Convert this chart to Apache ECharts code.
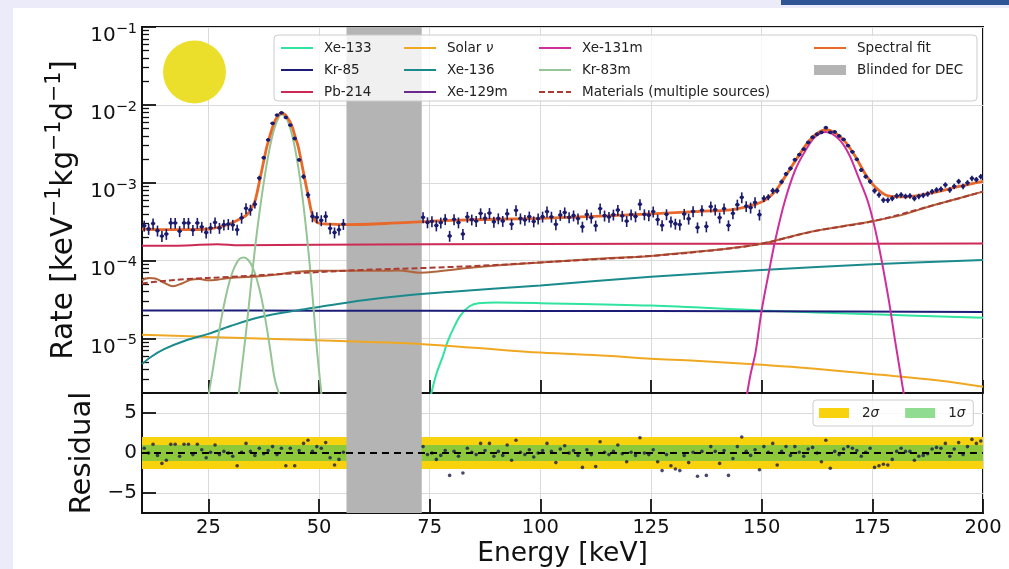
<!DOCTYPE html>
<html><head><meta charset="utf-8">
<script src="https://cdn.jsdelivr.net/npm/echarts@6/dist/echarts.min.js"></script>
<style>html,body{margin:0;padding:0;background:#ebebfa;}#c{width:1009px;height:569px;}</style>
</head><body><div id="c"></div>
<script>
// ---------------- DATA ----------------
const X_RANGE = [10, 200];
const Y_RANGE = [2e-6, 0.1];
const RES_RANGE = [-7.5, 7.5];
const X_TICKS = [25, 50, 75, 100, 125, 150, 175, 200];
const RES_TICKS = [-5, 0, 5];
const MINOR_TICKS = [3e-6,4e-6,5e-6,6e-6,7e-6,8e-6,9e-6,2e-5,3e-5,4e-5,5e-5,6e-5,7e-5,8e-5,9e-5,
  2e-4,3e-4,4e-4,5e-4,6e-4,7e-4,8e-4,9e-4,2e-3,3e-3,4e-3,5e-3,6e-3,7e-3,8e-3,9e-3,
  2e-2,3e-2,4e-2,5e-2,6e-2,7e-2,8e-2,9e-2];
const BLINDED = [56.2, 73.2];
const SIGMA_BANDS = [2, 1];
const BIN_HALF = 0.5;

const leftE = [10.5,11.5,12.5,13.5,14.5,15.5,16.5,17.5,18.5,19.5,20.5,21.5,22.5,23.5,24.5,25.5,26.5,27.5,28.5,29.5,
  30.5,31.5,32.5,33.5,34.5,35.5,36.5,37.5,38.5,39.5,40.5,41.5,42.5,43.5,44.5,45.5,46.5,47.5,48.5,49.5,
  50.5,51.5,52.5,53.5,54.5,55.5];
const leftRate = [2.81e-4,2.55e-4,3.0e-4,2.43e-4,2.07e-4,2.2e-4,3.05e-4,3.05e-4,2.39e-4,3.05e-4,
  3.05e-4,2.47e-4,3.05e-4,2.72e-4,2.3e-4,2.64e-4,3.1e-4,2.63e-4,2.9e-4,2.95e-4,
  2.88e-4,2.5e-4,3.55e-4,4.7e-4,4.5e-4,5.3e-4,1.15e-3,2.1e-3,3.56e-3,5.8e-3,
  7.4e-3,7.9e-3,6.9e-3,5.5e-3,3.7e-3,1.97e-3,1.2e-3,7.0e-4,3.7e-4,3.6e-4,
  3.3e-4,3.7e-4,2.6e-4,2.3e-4,2.5e-4,2.95e-4];
const leftErrFrac = [0.16,0.16,0.16,0.16,0.16,0.16,0.16,0.16,0.16,0.16,0.16,0.16,0.16,0.16,0.16,0.16,0.16,0.16,0.16,0.16,
  0.16,0.16,0.16,0.16,0.16,0.12,0.07,0.05,0.04,0.03,0.03,0.03,0.03,0.03,0.04,0.05,0.07,0.09,0.16,0.16,
  0.16,0.16,0.16,0.16,0.16,0.16];
const leftRes = [0.6,0.0,1.1,-0.3,-1.3,-0.9,1.1,1.1,-0.4,1.1,
  1.1,-0.2,1.1,0.4,-0.6,0.1,1.0,-0.2,0.2,0.0,
  -0.4,-1.6,0.1,1.2,0.2,-0.3,0.6,-0.1,0.3,0.8,
  -0.2,0.6,-1.6,0.6,-1.6,0.3,1.2,1.6,0.2,0.8,
  0.6,1.3,-0.6,-1.5,-0.8,0.1];

const rightE = [73.5,74.5,75.5,76.5,77.5,78.5,79.5,80.5,81.5,82.5,83.5,84.5,85.5,86.5,87.5,88.5,89.5,90.5,91.5,92.5,
  93.5,94.5,95.5,96.5,97.5,98.5,99.5,100.5,101.5,102.5,103.5,104.5,105.5,106.5,107.5,108.5,109.5,110.5,111.5,112.5,
  113.5,114.5,115.5,116.5,117.5,118.5,119.5,120.5,121.5,122.5,123.5,124.5,125.5,126.5,127.5,128.5,129.5,130.5,131.5,132.5,
  133.5,134.5,135.5,136.5,137.5,138.5,139.5,140.5,141.5,142.5,143.5,144.5,145.5,146.5,147.5,148.5,149.5,150.5,151.5,152.5,
  153.5,154.5,155.5,156.5,157.5,158.5,159.5,160.5,161.5,162.5,163.5,164.5,165.5,166.5,167.5,168.5,169.5,170.5,171.5,172.5,
  173.5,174.5,175.5,176.5,177.5,178.5,179.5,180.5,181.5,182.5,183.5,184.5,185.5,186.5,187.5,188.5,189.5,190.5,191.5,192.5,
  193.5,194.5,195.5,196.5,197.5,198.5,199.5];
const rightRate = [3.6e-4,3.1e-4,3.2e-4,2.83e-4,3.08e-4,3.41e-4,2.08e-4,3.39e-4,3.09e-4,2.2e-4,
  3.65e-4,3.37e-4,3.22e-4,4.05e-4,3.51e-4,4.08e-4,3.16e-4,3.49e-4,3.23e-4,4.0e-4,
  2.95e-4,4.43e-4,3.48e-4,3.33e-4,3.68e-4,3.19e-4,3.47e-4,3.67e-4,4.27e-4,3.66e-4,
  2.93e-4,3.86e-4,4.16e-4,3.6e-4,3.8e-4,3.47e-4,2.73e-4,3.92e-4,3.57e-4,2.82e-4,
  4.66e-4,3.79e-4,3.64e-4,3.9e-4,4.47e-4,3.76e-4,3.22e-4,3.92e-4,3.7e-4,5.3e-4,
  3.93e-4,3.83e-4,4.27e-4,3.37e-4,2.84e-4,3.94e-4,3.17e-4,2.98e-4,2.91e-4,3.98e-4,
  3.46e-4,4.3e-4,2.67e-4,4.44e-4,2.75e-4,4.95e-4,4.52e-4,3.58e-4,4.66e-4,2.84e-4,
  4.05e-4,5.23e-4,6.5e-4,5.0e-4,4.8e-4,5.6e-4,3.9e-4,6.3e-4,6.55e-4,7.9e-4,
  7.9e-4,1.03e-3,1.3e-3,1.53e-3,1.98e-3,2.3e-3,2.7e-3,3.3e-3,3.85e-3,4.2e-3,
  4.45e-3,5.1e-3,4.45e-3,4.5e-3,4.0e-3,3.6e-3,3.0e-3,2.5e-3,2.0e-3,1.46e-3,
  1.2e-3,1.04e-3,7.9e-4,7.0e-4,6.0e-4,6.0e-4,6.3e-4,6.8e-4,7.0e-4,6.7e-4,
  6.8e-4,6.3e-4,6.7e-4,6.9e-4,7.2e-4,7.7e-4,8.1e-4,8.3e-4,9.4e-4,8.1e-4,
  9.0e-4,1.04e-3,9.0e-4,1.0e-3,1.14e-3,1.1e-3,1.2e-3];
const rightErrFrac = [0.16,0.16,0.16,0.16,0.16,0.16,0.16,0.16,0.16,0.16,0.16,0.16,0.16,0.16,0.16,0.16,0.16,0.16,0.16,0.16,
  0.16,0.16,0.16,0.16,0.16,0.16,0.16,0.16,0.16,0.16,0.16,0.16,0.16,0.16,0.16,0.16,0.16,0.16,0.16,0.16,
  0.16,0.16,0.16,0.16,0.16,0.16,0.16,0.16,0.16,0.16,0.16,0.16,0.16,0.16,0.16,0.16,0.16,0.16,0.16,0.16,
  0.16,0.16,0.16,0.16,0.16,0.16,0.16,0.16,0.16,0.16,0.16,0.16,0.16,0.16,0.16,0.16,0.16,0.1,0.09,0.09,
  0.08,0.07,0.06,0.06,0.05,0.05,0.045,0.04,0.04,0.04,0.04,0.04,0.04,0.04,0.04,0.04,0.04,0.045,0.05,0.055,
  0.06,0.07,0.08,0.08,0.08,0.08,0.08,0.08,0.08,0.08,0.08,0.08,0.08,0.08,0.08,0.08,0.08,0.08,0.08,0.08,
  0.08,0.08,0.08,0.08,0.08,0.08,0.08];
const rightRes = [0.8,-0.2,0.0,-0.8,-0.3,0.3,-2.8,0.2,-0.4,-2.5,
  0.6,0.1,-0.2,1.2,0.3,1.2,-0.4,0.2,-0.3,1.0,
  -0.9,1.6,0.1,-0.2,0.4,-0.5,0.0,0.3,1.2,0.2,
  -1.2,0.5,0.9,0.0,0.3,-0.3,-1.8,0.4,-0.2,-1.7,
  1.4,0.1,-0.2,0.2,1.0,-0.1,-1.1,0.1,-0.3,1.9,
  0.0,-0.2,0.4,-1.1,-2.2,-0.2,-1.6,-2.0,-2.2,-0.3,
  -1.2,0.1,-2.9,0.2,-2.8,0.8,0.2,-1.3,0.3,-2.8,
  -0.7,0.8,2.0,0.2,-0.3,0.4,-2.1,0.8,0.1,1.2,
  -1.5,0.2,0.8,-0.3,0.8,0.1,-0.4,0.5,0.7,0.0,
  -1.1,1.6,-1.9,0.2,-0.2,0.5,0.8,0.6,0.3,-0.4,
  0.1,0.6,-1.8,-1.6,-1.4,-1.5,-0.8,0.2,0.6,0.2,
  0.2,-0.9,-0.4,-0.3,-0.1,0.5,0.7,0.6,1.2,-0.4,
  0.5,1.3,-0.2,0.8,1.7,1.2,1.5];

// model curves [energy keV, rate]
const spectralFit = [[10,2.55e-4],[15,2.5e-4],[20,2.5e-4],[25,2.55e-4],[28,2.75e-4],[30,3.0e-4],[32,3.4e-4],[33.7,3.9e-4],[35,5.0e-4],[35.6,6.0e-4],
  [36.7,1.15e-3],[37.5,1.9e-3],[38.2,2.9e-3],[39,4.2e-3],[39.7,5.6e-3],[40.5,7.0e-3],[41.6,7.9e-3],[42.6,7.2e-3],[43.8,5.5e-3],[44.6,3.9e-3],
  [45.3,2.9e-3],[46.5,1.34e-3],[47.6,6.6e-4],[48.7,3.6e-4],[50.2,3.0e-4],[52,2.95e-4],[56,2.9e-4],[65,3.0e-4],[75,3.2e-4],[80,3.3e-4],
  [90,3.4e-4],[100,3.5e-4],[115,3.75e-4],[125,4.0e-4],[136,4.3e-4],[143,4.5e-4],[147,5.0e-4],[149,5.4e-4],[150.8,6.0e-4],[153,7.7e-4],
  [155.3,1.2e-3],[158.3,2.2e-3],[160.6,3.4e-3],[162.5,4.3e-3],[164.5,4.8e-3],[166.5,4.4e-3],[168.8,3.4e-3],[171.1,2.2e-3],[173.4,1.3e-3],[175.6,8.9e-4],
  [178.6,6.8e-4],[182.4,6.6e-4],[188.3,7.4e-4],[194.4,8.9e-4],[200,1.04e-3]];
const xe133 = [[75.2,1.8e-6],[76.5,3.5e-6],[78,6e-6],[79,9e-6],[80.5,1.4e-5],[82,2.0e-5],[84,2.6e-5],[86,2.85e-5],[90,2.9e-5],[100,2.85e-5],[125,2.65e-5],[150,2.3e-5],[175,2.05e-5],[200,1.85e-5]];
const kr85 = [[10,2.3e-5],[50,2.28e-5],[100,2.26e-5],[150,2.24e-5],[200,2.2e-5]];
const pb214 = [[10,1.55e-4],[20,1.57e-4],[27,1.63e-4],[32,1.58e-4],[50,1.6e-4],[100,1.64e-4],[150,1.65e-4],[200,1.66e-4]];
const solarNu = [[10,1.12e-5],[25,1.05e-5],[40,9.9e-6],[55,9.3e-6],[70,8.7e-6],[85,7.6e-6],[100,6.6e-6],[115,6.0e-6],[125,5.5e-6],[135,5.2e-6],[150,4.6e-6],[160,4.2e-6],[175,3.5e-6],[190,2.9e-6],[200,2.4e-6]];
const xe136 = [[10,4.7e-6],[12,5.8e-6],[15,7.3e-6],[20,9.5e-6],[25,1.15e-5],[30,1.45e-5],[37,1.9e-5],[45,2.3e-5],[50,2.55e-5],[60,3.1e-5],[70,3.6e-5],[80,4.0e-5],[100,4.8e-5],[125,6.2e-5],[150,7.6e-5],[175,9.0e-5],[200,1.02e-4]];
const xe129m = [];
const xe131m = [[146.6,1.8e-6],[147.5,3.5e-6],[148.6,6.6e-6],[150,2.3e-5],[151.6,7.0e-5],[153.1,1.87e-4],[155.3,6.0e-4],[157.6,1.47e-3],[159.9,2.6e-3],[162.1,3.9e-3],
  [164.5,4.5e-3],[167.3,3.7e-3],[169.6,2.4e-3],[171.8,1.2e-3],[174.1,5.5e-4],[176.3,1.7e-4],[178.6,3.4e-5],[180.1,9.7e-6],[182.2,1.8e-6]];
const kr83mMain = [[31.8,1.8e-6],[32.5,4e-6],[33.5,1.2e-5],[34.5,4.2e-5],[35.5,1.4e-4],[36.5,4.0e-4],[37.5,1.0e-3],[38.5,2.2e-3],[39.5,4.1e-3],[40.5,6.2e-3],
  [41.5,7.5e-3],[42.5,6.9e-3],[43.5,5.0e-3],[44.5,2.9e-3],[45.5,1.35e-3],[46.5,5.0e-4],[47.5,1.5e-4],[48.5,3.7e-5],[49.5,7.5e-6],[50.6,1.8e-6]];
const kr83mLow = [[25,1.8e-6],[26,4e-6],[27,9e-6],[28,1.9e-5],[29,3.6e-5],[30,6.0e-5],[31,8.5e-5],[32,1.05e-4],[33,1.1e-4],[34,1.02e-4],[35,8.2e-5],[36,5.6e-5],[37,3.3e-5],[38,1.6e-5],[39,7e-6],[40,3e-6],[41.2,1.8e-6]];
const materialsSum = [[10,5.1e-5],[15,5.5e-5],[20,5.8e-5],[30,6.2e-5],[45,6.9e-5],[60,7.6e-5],[75,8.1e-5],[90,8.8e-5],[100,9.5e-5],[125,1.15e-4],[140,1.38e-4],[150,1.65e-4],[162,2.4e-4],[175,3.2e-4],[188,5.0e-4],[200,7.7e-4]];
const materialsSolid = [[10,5.6e-5],[11.5,6.0e-5],[13,5.9e-5],[15,5.2e-5],[17,4.7e-5],[19,5.1e-5],[21,5.7e-5],[23,5.8e-5],[25,5.6e-5],[27,5.7e-5],[30,6.0e-5],[35,6.2e-5],[40,6.6e-5],[45,7.2e-5],[50,7.4e-5],[55,7.4e-5],[62,7.4e-5],[68,7.5e-5],[72.7,7.0e-5],[76,7.2e-5],
  [83,8.0e-5],[90,8.7e-5],[100,9.5e-5],[112,1.05e-4],[125,1.15e-4],[135,1.3e-4],[140,1.38e-4],[150,1.65e-4],[156,2.0e-4],[162,2.4e-4],[168,2.75e-4],[175,3.2e-4],[182,3.9e-4],[188,5.0e-4],[194,6.2e-4],[200,7.7e-4]];

// ---------------- CHART ----------------
const FONT = 'DejaVu Sans';
const INK = '#111';
const NAVY = '#1b1b6e';
function logLabel(v) {
  const l = Math.log10(v), p = Math.round(l);
  if (Math.abs(l - p) > 1e-6) return '';
  return '{b|10}{s|' + (p < 0 ? '\u2212' : '') + Math.abs(p) + '}';
}
const pts = (E, R, F) => E.map((e, i) => [e, R[i], R[i] * F[i]]);
const dataPts = pts(leftE, leftRate, leftErrFrac).concat(pts(rightE, rightRate, rightErrFrac));
const resPts = leftE.map((e, i) => [e, leftRes[i]]).concat(rightE.map((e, i) => [e, rightRes[i]]));

const chart = echarts.init(document.getElementById('c'));
const G0 = {left: 142, top: 27, right: 26, height: 366};
const G1 = {left: 142, top: 393, right: 26, height: 120};
const axisLineStyle = {color: INK, width: 2};
const gridLine = {show: true, lineStyle: {color: '#dadada', width: 1}};

function comp(name, data, color, extra) {
  return Object.assign({
    name, type: 'line', data, xAxisIndex: 0, yAxisIndex: 0, symbol: 'none', smooth: 0.35,
    lineStyle: {color, width: 2}, itemStyle: {color}, z: 3, silent: true
  }, extra || {});
}

const legendCommon = {
  orient: 'vertical', itemWidth: 32, itemHeight: 10, itemGap: 8, padding: 0, top: 41,
  selectedMode: false, itemStyle: {opacity: 0},
  textStyle: {fontFamily: FONT, fontSize: 13.5, color: '#222', padding: [0, 0, 0, 6],
    rich: {nu: {fontFamily: FONT, fontSize: 13.5, color: '#222', fontStyle: 'italic'}}}
};

const option = {
  animation: false,
  backgroundColor: '#ebebfa',
  textStyle: {fontFamily: FONT},
  graphic: [
    {type: 'rect', z: -10, shape: {x: 13, y: 8, width: 996, height: 561}, style: {fill: '#ffffff'}},
    {type: 'rect', z: -10, shape: {x: 781, y: 0, width: 228, height: 5}, style: {fill: '#2f5597'}},
    {type: 'circle', z: 3, shape: {cx: 194.5, cy: 72, r: 31.5}, style: {fill: '#ebdf2b'}},
    {type: 'rect', z: 3, shape: {x: 274, y: 35, width: 703, height: 66, r: 4}, style: {fill: 'rgba(255,255,255,0.8)', stroke: '#cccccc', lineWidth: 1}}
  ],
  grid: [
    Object.assign({show: true, borderColor: INK, borderWidth: 2, backgroundColor: 'transparent'}, G0),
    Object.assign({show: true, borderColor: INK, borderWidth: 2, backgroundColor: 'transparent'}, G1)
  ],
  legend: [
    Object.assign({}, legendCommon, {left: 280, data: ['Xe-133', 'Kr-85', 'Pb-214']}),
    Object.assign({}, legendCommon, {left: 403, data: ['Solar ν', 'Xe-136', 'Xe-129m'],
      formatter: n => n === 'Solar ν' ? 'Solar {nu|ν}' : n}),
    Object.assign({}, legendCommon, {left: 538, data: ['Xe-131m', 'Kr-83m', 'Materials (multiple sources)']}),
    Object.assign({}, legendCommon, {left: 813, data: ['Spectral fit', {name: 'Blinded for DEC', icon: 'rect', itemStyle: {opacity: 1}}]}),
    {orient: 'horizontal', left: 813, top: 400, itemWidth: 30, itemHeight: 10, itemGap: 26, selectedMode: false,
      padding: [6, 8, 6, 6], backgroundColor: 'rgba(255,255,255,0.8)', borderColor: '#cccccc', borderWidth: 1, borderRadius: 3,
      data: [{name: '2σ', icon: 'rect'}, {name: '1σ', icon: 'rect'}],
      formatter: n => n.replace('σ', '{s|σ}'),
      textStyle: {fontFamily: FONT, fontSize: 13.5, color: '#222', padding: [0, 0, 0, 8],
        rich: {s: {fontFamily: FONT, fontSize: 13.5, color: '#222', fontStyle: 'italic'}}}}
  ],
  xAxis: [
    {type: 'value', gridIndex: 0, min: X_RANGE[0], max: X_RANGE[1],
      axisLine: {show: true, onZero: false, lineStyle: axisLineStyle},
      axisTick: {show: true, inside: true, length: 13, lineStyle: {color: INK, width: 1.8}, customValues: X_TICKS},
      axisLabel: {show: false, customValues: X_TICKS}, splitLine: gridLine},
    {type: 'value', gridIndex: 1, min: X_RANGE[0], max: X_RANGE[1],
      name: 'Energy [keV]', nameLocation: 'middle', nameGap: 28,
      nameTextStyle: {fontFamily: FONT, fontSize: 26.5, color: INK},
      axisLine: {show: true, onZero: false, lineStyle: axisLineStyle},
      axisTick: {show: true, inside: true, length: 14, lineStyle: {color: INK, width: 1.8}, customValues: X_TICKS},
      axisLabel: {show: true, customValues: X_TICKS, margin: 5, fontFamily: FONT, fontSize: 19.5, color: INK},
      splitLine: gridLine}
  ],
  yAxis: [
    {type: 'log', gridIndex: 0, logBase: 10, min: Y_RANGE[0], max: Y_RANGE[1],
      name: '{m|Rate [keV}{s|\u22121}{m|kg}{s|\u22121}{m|d}{s|\u22121}{m|]}', nameLocation: 'middle', nameGap: 62,
      nameTextStyle: {fontFamily: FONT, fontSize: 29.5, color: INK,
        rich: {m: {fontFamily: FONT, fontSize: 29.5, color: INK, lineHeight: 30, padding: [10, 0, 0, 0], verticalAlign: 'top'},
               s: {fontFamily: FONT, fontSize: 20.5, color: INK, lineHeight: 20, padding: [5, 0, 0, 0], verticalAlign: 'top'}}},
      axisLine: {show: true, onZero: false, lineStyle: axisLineStyle},
      axisTick: {show: true, inside: true, length: 14, lineStyle: {color: INK, width: 1.8}},
      axisLabel: {show: true, margin: 5, color: INK, formatter: logLabel, showMinLabel: true, showMaxLabel: true,
        rich: {b: {fontFamily: FONT, fontSize: 20, color: INK, lineHeight: 20, padding: [9, 0, 0, 0], verticalAlign: 'top'},
               s: {fontFamily: FONT, fontSize: 14.5, color: INK, lineHeight: 14, padding: [4.5, 0, 0, 0], verticalAlign: 'top'}}},
      splitLine: gridLine},
    {type: 'value', gridIndex: 0, min: Math.log10(Y_RANGE[0]), max: Math.log10(Y_RANGE[1]), position: 'left', offset: 0,
      axisLine: {show: false}, axisLabel: {show: false}, splitLine: {show: false},
      axisTick: {show: true, inside: true, length: 7, lineStyle: {color: INK, width: 1.3}, customValues: MINOR_TICKS.map(v => Math.log10(v))}},
    {type: 'value', gridIndex: 1, min: RES_RANGE[0], max: RES_RANGE[1],
      name: 'Residual', nameLocation: 'middle', nameGap: 41,
      nameTextStyle: {fontFamily: FONT, fontSize: 29, color: INK},
      axisLine: {show: true, onZero: false, lineStyle: axisLineStyle},
      axisTick: {show: true, inside: true, length: 14, lineStyle: {color: INK, width: 1.8}, customValues: RES_TICKS},
      axisLabel: {show: true, margin: 5, fontFamily: FONT, fontSize: 20, color: INK, customValues: RES_TICKS,
        formatter: v => v < 0 ? '\u2212' + Math.abs(v) : String(v)},
      splitLine: gridLine}
  ],
  series: [
    {name: 'Blinded for DEC', type: 'line', data: [], xAxisIndex: 0, yAxisIndex: 0, z: 1, silent: true,
      itemStyle: {color: '#b4b4b4'}, lineStyle: {color: '#b4b4b4'},
      markArea: {silent: true, itemStyle: {color: '#b4b4b4'}, data: [[{xAxis: BLINDED[0]}, {xAxis: BLINDED[1]}]]}},
    {name: 'minorTicksHolder', type: 'line', data: [], xAxisIndex: 0, yAxisIndex: 1},
    comp('Xe-133', xe133, '#30e39e'),
    comp('Kr-85', kr85, '#1c1c78'),
    comp('Pb-214', pb214, '#cc2a55'),
    comp('Solar ν', solarNu, '#f0a823'),
    comp('Xe-136', xe136, '#1b8a8c'),
    comp('Xe-129m', xe129m, '#6a2a8c'),
    comp('Xe-131m', xe131m, '#cf2f9b'),
    comp('Kr-83m', kr83mMain, '#95c495'),
    comp('Kr-83m', kr83mLow, '#95c495'),
    comp('Materials (individual)', materialsSolid, '#b0653c'),
    comp('Materials (multiple sources)', materialsSum, '#aa3b33', {lineStyle: {color: '#aa3b33', width: 2, type: [6, 3]}}),
    comp('Spectral fit', spectralFit, '#e8692a', {lineStyle: {color: '#e8692a', width: 2.8}, z: 4}),
    {name: 'Data', type: 'custom', xAxisIndex: 0, yAxisIndex: 0, z: 5, silent: true,
      data: dataPts, encode: {x: 0, y: 1},
      renderItem: (params, api) => {
        const e = api.value(0), r = api.value(1), er = api.value(2);
        const c = api.coord([e, r]);
        const lo = api.coord([e, r - er]), hi = api.coord([e, r + er]);
        const l = api.coord([e - BIN_HALF, r]), rr = api.coord([e + BIN_HALF, r]);
        return {type: 'group', children: [
          {type: 'line', shape: {x1: lo[0], y1: lo[1], x2: hi[0], y2: hi[1]}, style: {stroke: NAVY, lineWidth: 1.6}},
          {type: 'line', shape: {x1: l[0], y1: l[1], x2: rr[0], y2: rr[1]}, style: {stroke: NAVY, lineWidth: 1.6}},
          {type: 'circle', shape: {cx: c[0], cy: c[1], r: 1.9}, style: {fill: NAVY}}
        ]};
      }},
    // residual panel
    {name: '2σ', type: 'line', data: [], xAxisIndex: 1, yAxisIndex: 2, z: 1, silent: true,
      itemStyle: {color: '#f8d20c'}, lineStyle: {color: '#f8d20c'},
      markArea: {silent: true, itemStyle: {color: '#f8d20c'}, data: [[{yAxis: -SIGMA_BANDS[0]}, {yAxis: SIGMA_BANDS[0]}]]}},
    {name: '1σ', type: 'line', data: [], xAxisIndex: 1, yAxisIndex: 2, z: 1, silent: true,
      itemStyle: {color: '#90dc90'}, lineStyle: {color: '#90dc90'},
      markArea: {silent: true, itemStyle: {color: '#8cc83a'}, data: [[{yAxis: -SIGMA_BANDS[1]}, {yAxis: SIGMA_BANDS[1]}]]}},
    {name: 'Blinded for DEC', type: 'line', data: [], xAxisIndex: 1, yAxisIndex: 2, z: 2, silent: true,
      itemStyle: {color: '#b4b4b4'},
      markArea: {silent: true, itemStyle: {color: '#b4b4b4'}, data: [[{xAxis: BLINDED[0]}, {xAxis: BLINDED[1]}]]}},
    {name: 'Residuals', type: 'scatter', xAxisIndex: 1, yAxisIndex: 2, z: 4, silent: true,
      data: resPts, symbolSize: 3.6, itemStyle: {color: '#1a1a4a'},
      markLine: {silent: true, symbol: ['none', 'none'], label: {show: false},
        lineStyle: {color: '#000', width: 2.2, type: [7, 5]}, data: [{yAxis: 0}]}}
  ]
};
chart.setOption(option);
</script></body></html>
